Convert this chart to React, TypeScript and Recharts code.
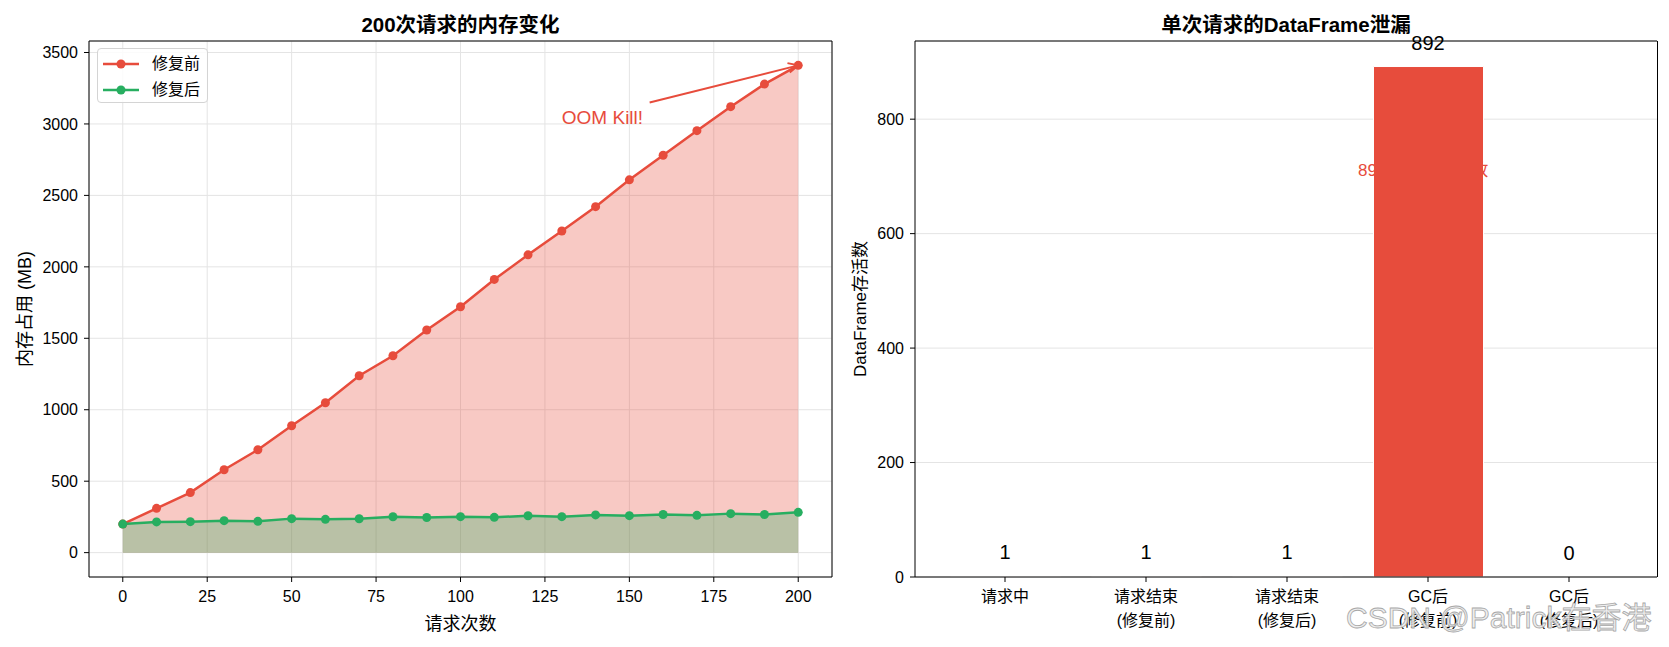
import React from 'react';
import {
  ComposedChart,
  Bar,
  Line,
  Area,
  XAxis,
  YAxis,
  CartesianGrid,
  Legend,
  ReferenceLine,
  ReferenceDot,
  LabelList,
} from 'recharts';

// ---------- Data: left chart ----------
const requestCounts = [0, 10, 20, 30, 40, 50, 60, 70, 80, 90, 100, 110, 120, 130, 140, 150, 160, 170, 180, 190, 200];
const memoryBefore = [200, 310, 420, 580, 720, 888, 1049, 1238, 1378, 1558, 1721, 1912, 2084, 2251, 2421, 2609, 2781, 2953, 3121, 3279, 3410];
const memoryAfter = [200, 215, 217, 224, 219, 238, 233, 237, 251, 246, 252, 247, 258, 252, 264, 259, 267, 261, 273, 267, 282];
const requestTicks = [0, 25, 50, 75, 100, 125, 150, 175, 200];
const memoryTicks = [0, 500, 1000, 1500, 2000, 2500, 3000, 3500];
const seriesNames = ['修复前', '修复后'];

// annotation (data coordinates)
const oomText = 'OOM Kill!';
const oomTextPos = { x: 130, y: 3000 };
const oomArrowFrom = { x: 156, y: 3150 };
const oomArrowTo = { x: 200, y: 3410 };

// ---------- Data: right chart ----------
const stageLabels = ['请求中', '请求结束\n(修复前)', '请求结束\n(修复后)', 'GC后\n(修复前)', 'GC后\n(修复后)'];
const aliveCounts = [1, 1, 1, 892, 0];
const aliveTicks = [0, 200, 400, 600, 800];
const leakNoteText = '892个对象未释放';
const leakNoteStage = 3;
const leakNoteY = 700;

const RED = '#e74c3c';
const GREEN = '#27ae60';
const FONT = "'Liberation Sans', 'Noto Sans CJK SC', Arial, sans-serif";
const GRID = '#e4e4e4';

const lineData = requestCounts.map((x, i) => ({ x, before: memoryBefore[i], after: memoryAfter[i] }));
const barData = stageLabels.map((stage, i) => ({ stage, count: aliveCounts[i] }));

const ArrowShape = (props: any) => {
  const { x1, y1, x2, y2 } = props;
  const ang = Math.atan2(y2 - y1, x2 - x1);
  const len = 11;
  const spread = 0.45;
  const ax = x2 - len * Math.cos(ang - spread);
  const ay = y2 - len * Math.sin(ang - spread);
  const bx = x2 - len * Math.cos(ang + spread);
  const by = y2 - len * Math.sin(ang + spread);
  return (
    <g>
      <line x1={x1} y1={y1} x2={x2} y2={y2} stroke={RED} strokeWidth={2} />
      <path d={`M ${ax} ${ay} L ${x2} ${y2} L ${bx} ${by}`} fill="none" stroke={RED} strokeWidth={2} />
    </g>
  );
};

const OomLabel = (props: any) => (
  <text x={props.cx} y={props.cy} fill={RED} fontSize={19} fontFamily={FONT}>
    {oomText}
  </text>
);

const LeakNote = (props: any) => (
  <text x={props.cx} y={props.cy} dx={-70} fill={RED} fontSize={17} fontFamily={FONT}>
    {leakNoteText}
  </text>
);

const LegendBox = (props: any) => {
  const payload = (props.payload || []).filter((p: any) => p.type !== 'none');
  return (
    <div
      style={{
        boxSizing: 'border-box',
        width: 111,
        height: 55,
        border: '1px solid #d4d4d4',
        borderRadius: 4,
        background: 'rgba(255,255,255,0.85)',
        padding: '2px 0 0 5px',
        fontFamily: FONT,
      }}
    >
      {payload.map((p: any, i: number) => (
        <div key={i} style={{ display: 'flex', alignItems: 'center', height: 25.7 }}>
          <svg width={36} height={12} style={{ display: 'block' }}>
            <line x1={0} y1={6} x2={36} y2={6} stroke={p.color} strokeWidth={2.5} />
            <circle cx={18} cy={6} r={4.5} fill={p.color} />
          </svg>
          <span style={{ marginLeft: 13, fontSize: 16, color: '#000', lineHeight: '16px' }}>{p.value}</span>
        </div>
      ))}
    </div>
  );
};

const StageTick = (props: any) => {
  const { x, y, payload } = props;
  const lines = String(payload.value).split('\n');
  return (
    <text x={x} y={y} textAnchor="middle" fill="#000" fontSize={16} fontFamily={FONT}>
      {lines.map((l, i) => (
        <tspan key={i} x={x} dy={i === 0 ? '0.71em' : 24}>
          {l}
        </tspan>
      ))}
    </text>
  );
};

const abs = (extra: React.CSSProperties): React.CSSProperties => ({
  position: 'absolute',
  whiteSpace: 'nowrap',
  fontFamily: FONT,
  color: '#000',
  ...extra,
});

export default function App() {
  return (
    <div
      style={{
        position: 'absolute',
        left: 0,
        top: 0,
        width: 1669,
        height: 647,
        background: '#fff',
        fontFamily: FONT,
        overflow: 'hidden',
      }}
    >
      {/* Left chart */}
      <div style={{ position: 'absolute', left: 0, top: 0 }}>
        <ComposedChart width={860} height={647} data={lineData} margin={{ top: 41, right: 28, bottom: 40, left: 29 }}>
          <CartesianGrid stroke={GRID} strokeWidth={1} />
          <XAxis
            dataKey="x"
            type="number"
            domain={[-10, 210]}
            ticks={requestTicks}
            allowDataOverflow
            height={30}
            tickSize={5}
            tickMargin={9}
            stroke="#000"
            tick={{ fill: '#000', fontSize: 16 }}
          />
          <YAxis
            type="number"
            domain={[-170.5, 3580.5]}
            ticks={memoryTicks}
            allowDataOverflow
            width={60}
            tickSize={5}
            tickMargin={6}
            stroke="#000"
            tick={{ fill: '#000', fontSize: 16 }}
          />
          <Area
            type="linear"
            dataKey="before"
            baseValue={0}
            fill={RED}
            fillOpacity={0.3}
            stroke={RED}
            strokeOpacity={0.3}
            strokeWidth={1}
            legendType="none"
            dot={false}
            activeDot={false}
            isAnimationActive={false}
          />
          <Area
            type="linear"
            dataKey="after"
            baseValue={0}
            fill={GREEN}
            fillOpacity={0.3}
            stroke={GREEN}
            strokeOpacity={0.3}
            strokeWidth={1}
            legendType="none"
            dot={false}
            activeDot={false}
            isAnimationActive={false}
          />
          <Line
            type="linear"
            dataKey="before"
            name={seriesNames[0]}
            stroke={RED}
            strokeWidth={2.5}
            dot={{ r: 4.5, fill: RED, stroke: RED, strokeWidth: 0 }}
            activeDot={false}
            isAnimationActive={false}
          />
          <Line
            type="linear"
            dataKey="after"
            name={seriesNames[1]}
            stroke={GREEN}
            strokeWidth={2.5}
            dot={{ r: 4.5, fill: GREEN, stroke: GREEN, strokeWidth: 0 }}
            activeDot={false}
            isAnimationActive={false}
          />
          <ReferenceLine y={3580.5} stroke="#000" strokeWidth={1} ifOverflow="visible" />
          <ReferenceLine x={210} stroke="#000" strokeWidth={1} ifOverflow="visible" />
          <ReferenceLine
            segment={[oomArrowFrom, oomArrowTo]}
            stroke={RED}
            strokeWidth={2}
            ifOverflow="visible"
            shape={ArrowShape}
          />
          <ReferenceDot x={oomTextPos.x} y={oomTextPos.y} r={0} ifOverflow="visible" shape={OomLabel} />
          <Legend
            layout="vertical"
            align="center"
            verticalAlign="middle"
            wrapperStyle={{ left: 97, top: 48, width: 111, height: 55 }}
            content={LegendBox}
          />
        </ComposedChart>
      </div>

      {/* Right chart */}
      <div style={{ position: 'absolute', left: 860, top: 0 }}>
        <ComposedChart width={809} height={647} data={barData} margin={{ top: 41, right: 12, bottom: 10, left: 10 }}>
          <CartesianGrid stroke={GRID} strokeWidth={1} vertical={false} />
          <XAxis
            dataKey="stage"
            height={60}
            padding={{ left: 19.5, right: 17.5 }}
            tickSize={5}
            tickMargin={9}
            stroke="#000"
            interval={0}
            tick={StageTick}
          />
          <YAxis
            type="number"
            domain={[0, 936.6]}
            ticks={aliveTicks}
            allowDataOverflow
            width={45}
            tickSize={5}
            tickMargin={6}
            stroke="#000"
            tick={{ fill: '#000', fontSize: 16 }}
          />
          <Bar dataKey="count" barSize={110} fill={RED} stroke="#fff" strokeWidth={1} isAnimationActive={false} />
          <Line
            dataKey="count"
            stroke="none"
            dot={false}
            activeDot={false}
            legendType="none"
            isAnimationActive={false}
          >
            <LabelList dataKey="count" position="top" offset={17} fill="#000" fontSize={20} fontFamily={FONT} />
          </Line>
          <ReferenceLine y={936.6} stroke="#000" strokeWidth={1} ifOverflow="visible" />
          <ReferenceDot
            x={stageLabels[leakNoteStage]}
            y={leakNoteY}
            r={0}
            ifOverflow="visible"
            shape={LeakNote}
          />
        </ComposedChart>
      </div>
      {/* right frame edge of bar chart */}
      <div style={{ position: 'absolute', left: 1657, top: 41, width: 1, height: 536, background: '#000' }} />

      {/* Titles and axis labels */}
      <div style={abs({ left: 460.5, top: 23, transform: 'translate(-50%, -50%)', fontSize: 20.5, fontWeight: 'bold' })}>
        200次请求的内存变化
      </div>
      <div style={abs({ left: 460.5, top: 622, transform: 'translate(-50%, -50%)', fontSize: 18 })}>请求次数</div>
      <div style={abs({ left: 23, top: 309, transform: 'translate(-50%, -50%) rotate(-90deg)', fontSize: 18 })}>
        内存占用 (MB)
      </div>

      <div style={abs({ left: 1286, top: 23, transform: 'translate(-50%, -50%)', fontSize: 20.5, fontWeight: 'bold' })}>
        单次请求的DataFrame泄漏
      </div>
      <div style={abs({ left: 858, top: 309, transform: 'translate(-50%, -50%) rotate(-90deg)', fontSize: 17 })}>
        DataFrame存活数
      </div>

      {/* Watermark */}
      <div
        style={abs({
          left: 1346,
          top: 615,
          transform: 'translateY(-50%)',
          fontSize: 30,
          color: 'rgba(236,236,236,0.9)',
          WebkitTextStroke: '0.8px #a8a8a8',
        })}
      >
        CSDN @Patrick在香港
      </div>
    </div>
  );
}
